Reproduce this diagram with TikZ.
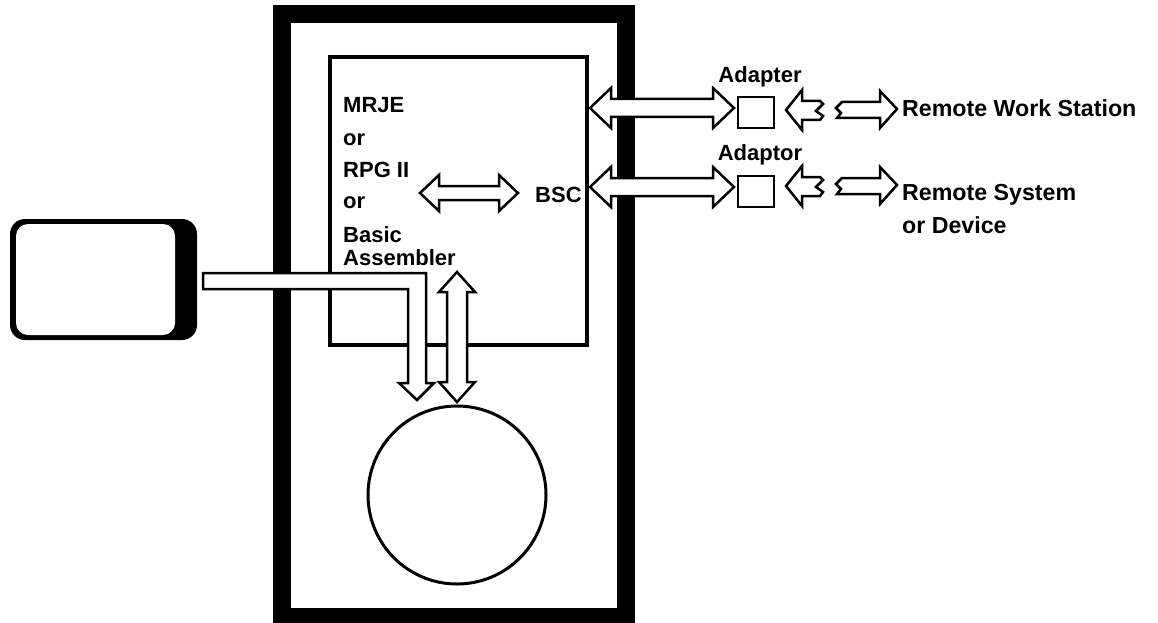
\documentclass[tikz,border=0pt]{standalone}
\usepackage{fontspec}
\setmainfont{Liberation Sans}
\tikzset{
  blk/.style={draw=black, fill=white, line width=2.5pt, line join=miter},
  lbl/.style={inner sep=0pt, anchor=base west, font=\fontsize{22}{26}\selectfont\bfseries},
  rlbl/.style={inner sep=0pt, anchor=base west, font=\fontsize{23.2}{27}\selectfont\bfseries},
  clbl/.style={inner sep=0pt, anchor=base, font=\fontsize{22}{26}\selectfont\bfseries},
  adbox/.style={draw, line width=2pt, minimum width=36pt, minimum height=31pt, inner sep=0pt},
}
% horizontal double block arrow: x1 x2 y shaft-half head-half head-length
\newcommand\hdarrow[6]{%
 \path[blk] (#1,#3) -- ({#1+#6},{#3-#5}) -- ({#1+#6},{#3-#4}) -- ({#2-#6},{#3-#4}) -- ({#2-#6},{#3-#5}) -- (#2,#3) -- ({#2-#6},{#3+#5}) -- ({#2-#6},{#3+#4}) -- ({#1+#6},{#3+#4}) -- ({#1+#6},{#3+#5}) -- cycle;}
% vertical double block arrow: x y1 y2 shaft-half head-half head-length
\newcommand\vdarrow[6]{%
 \path[blk] (#1,#2) -- ({#1+#5},{#2+#6}) -- ({#1+#4},{#2+#6}) -- ({#1+#4},{#3-#6}) -- ({#1+#5},{#3-#6}) -- (#1,#3) -- ({#1-#5},{#3-#6}) -- ({#1-#4},{#3-#6}) -- ({#1-#4},{#2+#6}) -- ({#1-#5},{#2+#6}) -- cycle;}
% notched arrow pointing left, centre y
\newcommand\notchL[1]{%
 \path[blk] (786,#1) -- (802,{#1-20}) -- (802,{#1-9}) -- (820,{#1-9}) -- (823,{#1-6}) -- (816,{#1+1}) -- (823,{#1+6}) -- (820,{#1+10}) -- (802,{#1+10}) -- (802,{#1+20}) -- cycle;}
% arrow pointing right with jagged tail, centre y
\newcommand\jagR[1]{%
 \path[blk] (842,{#1-8}) -- (880,{#1-8}) -- (880,{#1-19}) -- (897,{#1-1}) -- (880,{#1+18}) -- (880,{#1+8}) -- (837,{#1+8}) -- (841,{#1+3}) -- (836,{#1-2}) -- cycle;}
\begin{document}
\begin{tikzpicture}[x=1pt,y=-1pt]
\useasboundingbox (0,0) rectangle (1158,623);
% outer cabinet frame
\draw[line width=18pt] (281.5,14) rectangle (626,617);
% inner program box
\draw[line width=3.8pt] (330,57) rectangle (587,345);
% disk
\node[circle, draw, line width=3pt, minimum size=178pt, inner sep=0pt] (disk) at (457,495) {};
% terminal
\fill[rounded corners=15pt] (10,219) rectangle (197,340);
\fill[white, rounded corners=12pt] (16,224) rectangle (175,335);
\coordinate (term) at (103,280);
% pipe from terminal to disk
\path[blk] (203,273) -- (426,273) -- (426,383) -- (434,383) -- (417,400) -- (399,383) -- (408,383) -- (408,289) -- (203,289) -- cycle;
% program <-> disk
\vdarrow{457}{272}{402}{10}{18}{20}
% program <-> BSC
\hdarrow{420}{518}{193}{7}{18}{19}
% BSC <-> adapters
\hdarrow{590}{734}{108}{9}{20}{21}
\hdarrow{590}{734}{187}{9}{20}{21}
% adapters
\node[adbox] (ad1) at (755.5,112.5) {};
\node[adbox] (ad2) at (755.5,191) {};
\notchL{110}
\notchL{186}
\jagR{110}
\jagR{186}
% labels
\node[clbl] (tad1) at (760,83) {Adapter};
\node[clbl] (tad2) at (760,160) {Adaptor};
\node[rlbl] (rws) at (902,117) {Remote Work Station};
\node[rlbl] (rsd1) at (902,200) {Remote System};
\node[rlbl] (rsd2) at (902,233) {or Device};
\node[lbl] (p1) at (343,113) {MRJE};
\node[lbl] (p2) at (343,145) {or};
\node[lbl] (p3) at (343,177) {RPG II};
\node[lbl] (p4) at (343,208) {or};
\node[lbl] (p5) at (343,242) {Basic};
\node[lbl] (p6) at (343,265) {Assembler};
\node[lbl] (bsc) at (535,202) {BSC};
\end{tikzpicture}
\end{document}
